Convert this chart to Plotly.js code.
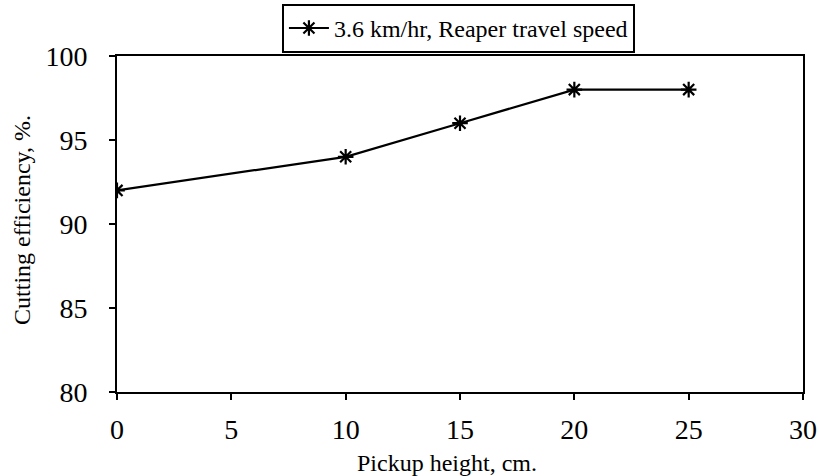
<!DOCTYPE html>
<html>
<head>
<meta charset="utf-8">
<script src="https://cdn.plot.ly/plotly-3.0.1.min.js"></script>
<style>html,body{margin:0;padding:0;background:#fff;}#chart{width:820px;height:476px;}</style>
</head>
<body>
<div id="chart"></div>
<script>
const pickupHeight = [0, 10, 15, 20, 25];
const cuttingEfficiency = [92, 94, 96, 98, 98];
const seriesName = "3.6 km/hr, Reaper travel speed";
const xTitle = "Pickup height, cm.";
const yTitle = "Cutting efficiency, %.";
const xTicks = [0, 5, 10, 15, 20, 25, 30];
const yTicks = [80, 85, 90, 95, 100];

const font = "Liberation Serif, Times New Roman, serif";

const trace = {
  x: pickupHeight,
  y: cuttingEfficiency,
  name: seriesName,
  mode: "lines+markers",
  line: {color: "#000", width: 2.2},
  marker: {symbol: "asterisk-open", size: 13, color: "#000", line: {color: "#000", width: 2.2}}
};

const layout = {
  width: 820, height: 476,
  margin: {l: 117, r: 17, t: 56, b: 84, autoexpand: false},
  paper_bgcolor: "#fff", plot_bgcolor: "#fff",
  font: {family: font, color: "#000"},
  showlegend: true,
  legend: {
    x: 0.755, y: 1.155, xanchor: "right", yanchor: "top",
    bordercolor: "#000", borderwidth: 2, bgcolor: "#fff",
    font: {family: font, size: 24, color: "#000"},
    itemwidth: 40
  },
  xaxis: {
    range: [0, 30], tickvals: xTicks, ticktext: xTicks.map(String),
    showgrid: false, zeroline: false, automargin: false,
    showline: true, linecolor: "#000", linewidth: 2, mirror: true,
    ticks: "outside", ticklen: 6, tickwidth: 2, tickcolor: "#000",
    ticklabelstandoff: 5,
    tickfont: {family: font, size: 28, color: "#000"}
  },
  yaxis: {
    range: [80, 100], tickvals: yTicks, ticktext: yTicks.map(String),
    showgrid: false, zeroline: false, automargin: false,
    showline: true, linecolor: "#000", linewidth: 2, mirror: true,
    ticks: "outside", ticklen: 6, tickwidth: 2, tickcolor: "#000",
    ticklabelstandoff: 16,
    tickfont: {family: font, size: 28, color: "#000"}
  },
  annotations: [
    {text: xTitle, xref: "paper", yref: "paper", x: 0.481, y: -0.212,
     xanchor: "center", yanchor: "middle", showarrow: false,
     font: {family: font, size: 24, color: "#000"}},
    {text: yTitle, xref: "paper", yref: "paper", x: -0.1385, y: 0.512,
     xanchor: "center", yanchor: "middle", showarrow: false, textangle: -90,
     font: {family: font, size: 24, color: "#000"}}
  ]
};

Plotly.newPlot("chart", [trace], layout, {displayModeBar: false, staticPlot: true});
</script>
</body>
</html>
